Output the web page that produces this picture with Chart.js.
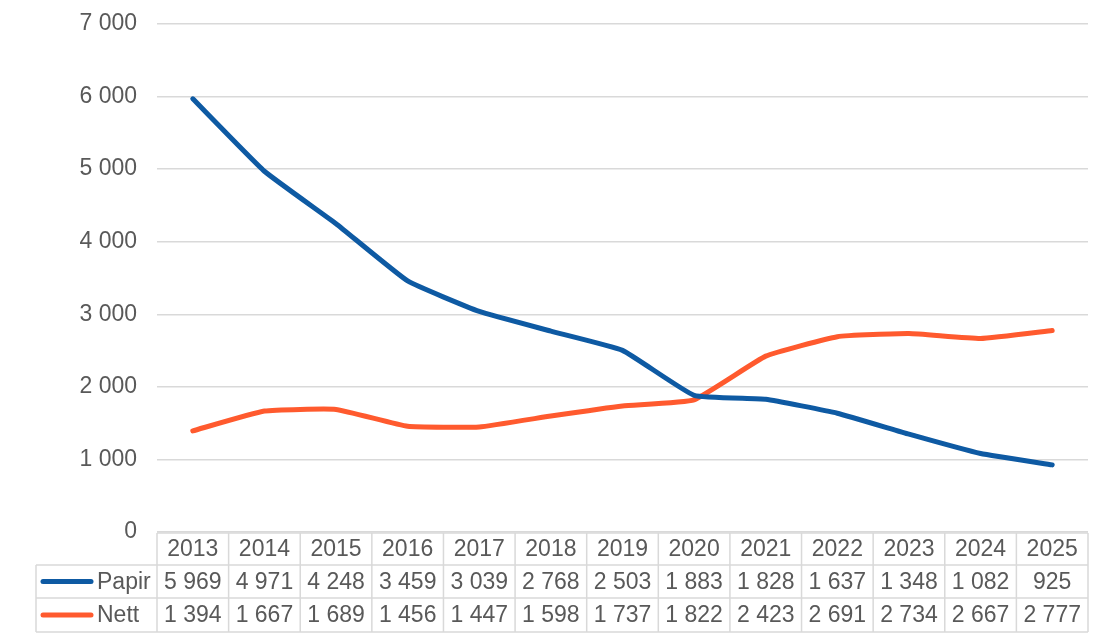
<!DOCTYPE html>
<html>
<head>
<meta charset="utf-8">
<script src="https://cdn.jsdelivr.net/npm/chart.js@4.4.1/dist/chart.umd.min.js"></script>
<style>
  html, body { margin: 0; padding: 0; background: #fff; }
  #wrap { width: 1114px; height: 642px; }
</style>
</head>
<body>
<div id="wrap"><canvas id="chart" width="1114" height="642"></canvas></div>
<script>
// data
const years = ['2013', '2014', '2015', '2016', '2017', '2018', '2019', '2020', '2021', '2022', '2023', '2024', '2025'];
const papir = [5969, 4971, 4248, 3459, 3039, 2768, 2503, 1883, 1828, 1637, 1348, 1082, 925];
const nett = [1394, 1667, 1689, 1456, 1447, 1598, 1737, 1822, 2423, 2691, 2734, 2667, 2777];
const yTicks = [0, 1000, 2000, 3000, 4000, 5000, 6000, 7000];

const BLUE = '#0E5AA3';
const ORANGE = '#FF5A2E';
const TEXT = '#595959';
const GRID = '#D9D9D9';
const FONT = 'Liberation Sans, Arial, sans-serif';
const FSIZE = 23;

// thousands with a space, like "5 969"
const fmt = v => String(v).replace(/\B(?=(\d{3})+(?!\d))/g, ' ');

// draws the data table under the plot, columns taken from the x scale
const dataTable = {
  id: 'dataTable',
  afterDraw(chart) {
    const ctx = chart.ctx;
    const x = chart.scales.x;
    const area = chart.chartArea;
    const colW = (area.right - area.left) / years.length;
    const rows = [area.bottom + 1, area.bottom + 33, area.bottom + 66, area.bottom + 100];
    const legendLeft = 36;

    ctx.save();
    ctx.strokeStyle = GRID;
    ctx.lineWidth = 1.5;
    ctx.beginPath();
    // header top line
    ctx.moveTo(area.left, rows[0]); ctx.lineTo(area.right, rows[0]);
    for (let r = 1; r < rows.length; r++) {
      ctx.moveTo(legendLeft, rows[r]); ctx.lineTo(area.right, rows[r]);
    }
    for (let i = 0; i <= years.length; i++) {
      const cx = area.left + i * colW;
      ctx.moveTo(cx, rows[0]); ctx.lineTo(cx, rows[3]);
    }
    ctx.moveTo(legendLeft, rows[1]); ctx.lineTo(legendLeft, rows[3]);
    ctx.stroke();

    ctx.fillStyle = TEXT;
    ctx.font = FSIZE + 'px ' + FONT;
    ctx.textAlign = 'center';
    ctx.textBaseline = 'middle';
    years.forEach((yr, i) => {
      const cx = x.getPixelForValue(i);
      ctx.fillText(yr, cx, (rows[0] + rows[1]) / 2 + 1);
      ctx.fillText(fmt(papir[i]), cx, (rows[1] + rows[2]) / 2 + 1);
      ctx.fillText(fmt(nett[i]), cx, (rows[2] + rows[3]) / 2 + 1);
    });

    // legend keys in the first column
    const keys = [[chart.data.datasets[0], rows[1], rows[2]], [chart.data.datasets[1], rows[2], rows[3]]];
    ctx.lineCap = 'round';
    ctx.lineWidth = 5;
    ctx.textAlign = 'left';
    keys.forEach(([ds, top, bot]) => {
      const my = (top + bot) / 2;
      ctx.strokeStyle = ds.borderColor;
      ctx.beginPath();
      ctx.moveTo(43, my); ctx.lineTo(91, my);
      ctx.stroke();
      ctx.fillText(ds.label, 97, my + 1);
    });
    ctx.restore();
  }
};

new Chart(document.getElementById('chart'), {
  type: 'line',
  data: {
    labels: years,
    datasets: [
      { label: 'Papir', data: papir, borderColor: BLUE, backgroundColor: BLUE, borderWidth: 5, pointRadius: 0, tension: 0.12, borderCapStyle: 'round', borderJoinStyle: 'round' },
      { label: 'Nett', data: nett, borderColor: ORANGE, backgroundColor: ORANGE, borderWidth: 5, pointRadius: 0, tension: 0.12, borderCapStyle: 'round', borderJoinStyle: 'round' }
    ]
  },
  options: {
    responsive: false,
    animation: false,
    layout: { padding: { top: 24, right: 26, bottom: 0, left: 0 } },
    plugins: { legend: { display: false }, tooltip: { enabled: false } },
    scales: {
      x: {
        type: 'category',
        offset: true,
        grid: { display: false },
        border: { display: false },
        ticks: { display: false },
        afterFit: s => { s.height = 110; s.paddingLeft = 0; s.paddingRight = 0; }
      },
      y: {
        min: 0,
        max: 7000,
        afterBuildTicks: s => { s.ticks = yTicks.map(v => ({ value: v })); },
        grid: { color: GRID, lineWidth: 1.5, drawTicks: false },
        border: { display: false },
        ticks: {
          color: TEXT,
          font: { size: FSIZE, family: FONT },
          padding: 20,
          callback: v => fmt(v)
        },
        afterFit: s => { s.width = 157; s.paddingTop = 0; s.paddingBottom = 0; }
      }
    }
  },
  plugins: [dataTable]
});
</script>
</body>
</html>
